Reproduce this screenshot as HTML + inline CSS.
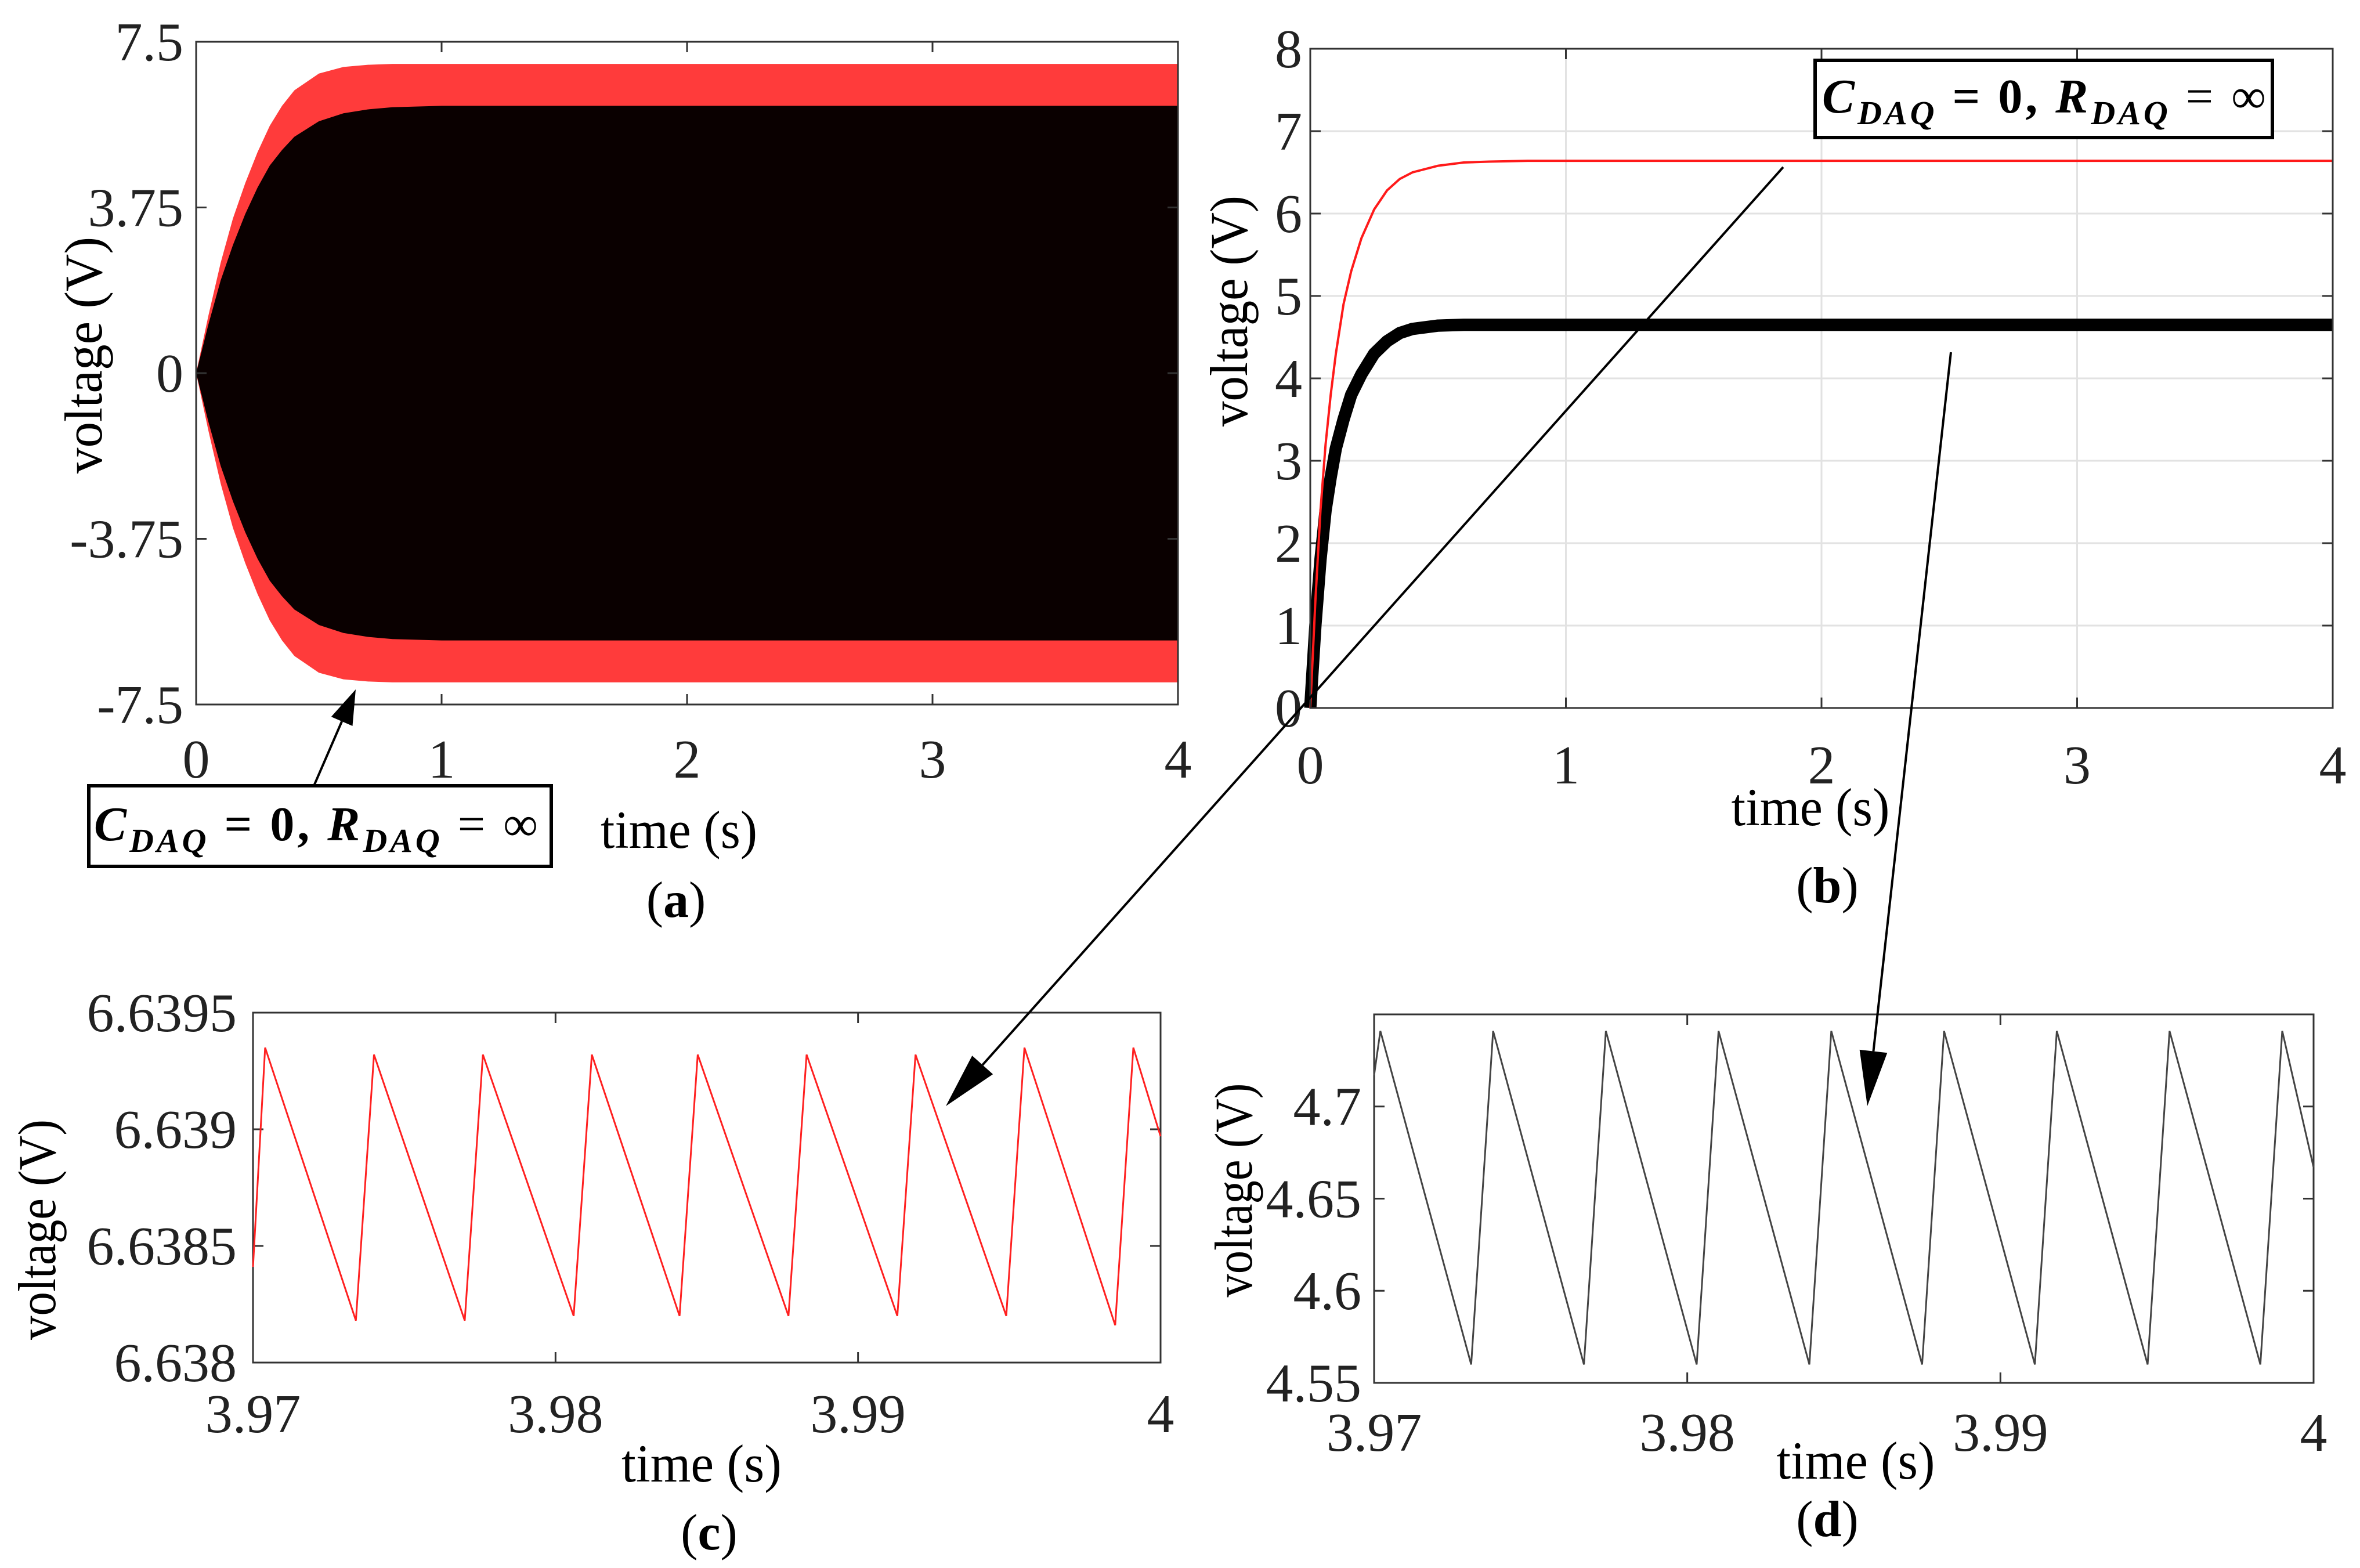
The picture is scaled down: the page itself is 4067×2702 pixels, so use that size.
<!DOCTYPE html>
<html><head><meta charset="utf-8"><style>
html,body{margin:0;padding:0;background:#fff;}
svg, svg text{font-family:"Liberation Serif","DejaVu Serif",serif;}
</style></head><body>
<svg id="fig" width="4067" height="2697" viewBox="0 0 4067 2697" xmlns="http://www.w3.org/2000/svg" font-family="Liberation Serif, DejaVu Serif, serif">
<rect width="4067" height="2697" fill="#fff"/>
<g id="pa"></g>
<g id="pb"></g>
<g id="pc"></g>
<g id="pd"></g>

<!-- static labels -->
<text x="145" y="612" font-size="92" text-anchor="middle" textLength="408" lengthAdjust="spacingAndGlyphs" transform="rotate(-90 145 612) translate(0 30)">voltage (V)</text>
<text x="1170" y="1461" font-size="92" text-anchor="middle" textLength="270" lengthAdjust="spacingAndGlyphs">time (s)</text>
<text x="1165" y="1580" font-size="88" text-anchor="middle">(<tspan font-weight="bold">a</tspan>)</text>

<text x="2119" y="536" font-size="92" text-anchor="middle" textLength="398" lengthAdjust="spacingAndGlyphs" transform="rotate(-90 2119 536) translate(0 30)">voltage (V)</text>
<text x="3120" y="1422" font-size="92" text-anchor="middle" textLength="273" lengthAdjust="spacingAndGlyphs">time (s)</text>
<text x="3149" y="1555" font-size="88" text-anchor="middle">(<tspan font-weight="bold">b</tspan>)</text>

<text x="65" y="2119" font-size="92" text-anchor="middle" textLength="380" lengthAdjust="spacingAndGlyphs" transform="rotate(-90 65 2119) translate(0 30)">voltage (V)</text>
<text x="1209" y="2553" font-size="92" text-anchor="middle" textLength="276" lengthAdjust="spacingAndGlyphs">time (s)</text>
<text x="1222" y="2670" font-size="88" text-anchor="middle">(<tspan font-weight="bold">c</tspan>)</text>

<text x="2127" y="2051" font-size="92" text-anchor="middle" textLength="369" lengthAdjust="spacingAndGlyphs" transform="rotate(-90 2127 2051) translate(0 30)">voltage (V)</text>
<text x="3198" y="2548" font-size="92" text-anchor="middle" textLength="273" lengthAdjust="spacingAndGlyphs">time (s)</text>
<text x="3149" y="2647" font-size="88" text-anchor="middle">(<tspan font-weight="bold">d</tspan>)</text>

<!-- annotation boxes -->
<g>
<rect x="153" y="1354" width="797" height="139" fill="#fff" stroke="#000" stroke-width="6"/>
<text x="162" y="1448" font-size="84" font-weight="bold" textLength="765" lengthAdjust="spacing"><tspan font-style="italic">C</tspan><tspan font-style="italic" font-size="58" dy="20">DAQ</tspan><tspan dy="-20"> = 0,  </tspan><tspan font-style="italic">R</tspan><tspan font-style="italic" font-size="58" dy="20">DAQ</tspan><tspan dy="-20" font-weight="normal"> = ∞</tspan></text>
</g>
<g>
<rect x="3128" y="104" width="788" height="133" fill="#fff" stroke="#000" stroke-width="6"/>
<text x="3140" y="194" font-size="84" font-weight="bold" textLength="765" lengthAdjust="spacing"><tspan font-style="italic">C</tspan><tspan font-style="italic" font-size="58" dy="20">DAQ</tspan><tspan dy="-20"> = 0,  </tspan><tspan font-style="italic">R</tspan><tspan font-style="italic" font-size="58" dy="20">DAQ</tspan><tspan dy="-20" font-weight="normal"> = ∞</tspan></text>
</g>
<g id="arrows"></g>

<script>
// ---------- data ----------
const aTimes = [0,0.05,0.1,0.15,0.2,0.25,0.3,0.35,0.4,0.5,0.6,0.7,0.8,1.0,4];
const aRedEnv = [0,1.3,2.5,3.5,4.3,5.0,5.6,6.05,6.4,6.78,6.93,6.98,7.0,7.0,7.0];
const aBlackEnv = [0,1.1,2.1,2.9,3.6,4.2,4.7,5.05,5.35,5.7,5.88,5.97,6.02,6.05,6.05];
const aYTicks = [7.5,3.75,0,-3.75,-7.5];
const aYTickLabels = ["7.5","3.75","0","-3.75","-7.5"];
const xTicks04 = [0,1,2,3,4];
const xTickLabels04 = ["0","1","2","3","4"];

const bTimes = [0,0.02,0.04,0.06,0.08,0.1,0.13,0.16,0.2,0.25,0.3,0.35,0.4,0.5,0.6,0.7,0.85,1,4];
const bRed = [0,1.3,2.4,3.2,3.8,4.3,4.9,5.3,5.7,6.05,6.28,6.42,6.5,6.58,6.62,6.63,6.64,6.64,6.64];
const bBlack = [0,1.0,1.8,2.4,2.8,3.15,3.5,3.8,4.05,4.3,4.45,4.55,4.6,4.64,4.65,4.65,4.65,4.65,4.65];
const bBlackBand = 0.15;
const bYTicks = [0,1,2,3,4,5,6,7,8];
const bYTickLabels = ["0","1","2","3","4","5","6","7","8"];

const cT = [3.97,3.9704,3.9734,3.9740,3.9770,3.9776,3.9806,3.9812,3.9841,3.9847,3.9877,3.9883,3.9913,3.9919,3.9949,3.9955,3.9985,3.9991,4.0];
const cV = [6.63841,6.63935,6.63818,6.63932,6.63818,6.63932,6.6382,6.63932,6.6382,6.63932,6.6382,6.63932,6.6382,6.63932,6.6382,6.63935,6.63816,6.63935,6.63897];
const cYTicks = [6.6395,6.639,6.6385,6.638];
const cYTickLabels = ["6.6395","6.639","6.6385","6.638"];
const zoomXTicks = [3.97,3.98,3.99,4];
const zoomXTickLabels = ["3.97","3.98","3.99","4"];

const dT = [3.97,3.9702,3.9731,3.9738,3.9767,3.9774,3.9803,3.9810,3.9839,3.9846,3.9875,3.9882,3.9911,3.9918,3.9947,3.9954,3.9983,3.9990,4.0];
const dV = [4.717,4.741,4.560,4.741,4.560,4.741,4.560,4.741,4.560,4.741,4.560,4.741,4.560,4.741,4.560,4.741,4.560,4.741,4.667];
const dYTicks = [4.7,4.65,4.6,4.55];
const dYTickLabels = ["4.7","4.65","4.6","4.55"];

// ---------- helpers ----------
const NS = "http://www.w3.org/2000/svg";
function mk(parent, tag, attrs){ const e=document.createElementNS(NS,tag); for(const k in attrs) e.setAttribute(k,attrs[k]); parent.appendChild(e); return e; }
function scale(d0,d1,r0,r1){ return v => r0 + (v-d0)/(d1-d0)*(r1-r0); }

function axesBox(g, L,R,T,B, name){
  const r = mk(g,'rect',{x:L,y:T,width:R-L,height:B-T,fill:'none',stroke:'#333','stroke-width':3});
  
  
}
function yTicks(g, ys, labels, sy, L, R, lx, fs, name, grid){
  ys.forEach((v,i)=>{
    const y = sy(v);
    if(grid){ const gl=mk(g,'line',{x1:L,x2:R,y1:y,y2:y,stroke:'#e2e2e2','stroke-width':3});
      
       }
    mk(g,'line',{x1:L,x2:L+18,y1:y,y2:y,stroke:'#333','stroke-width':3});
    mk(g,'line',{x1:R,x2:R-18,y1:y,y2:y,stroke:'#333','stroke-width':3});
    const t = mk(g,'text',{x:lx,y:y+fs*0.34,'font-size':fs,'text-anchor':'end',fill:'#222'});
    t.textContent = labels[i];
    
    
  });
}
function xTicksF(g, xs, labels, sx, T, B, ly, fs, name, grid){
  xs.forEach((v,i)=>{
    const x = sx(v);
    if(grid){ const gl=mk(g,'line',{x1:x,x2:x,y1:T,y2:B,stroke:'#e2e2e2','stroke-width':3});
      
       }
    mk(g,'line',{x1:x,x2:x,y1:B,y2:B-18,stroke:'#333','stroke-width':3});
    mk(g,'line',{x1:x,x2:x,y1:T,y2:T+18,stroke:'#333','stroke-width':3});
    const t = mk(g,'text',{x:x,y:ly,'font-size':fs,'text-anchor':'middle',fill:'#222'});
    t.textContent = labels[i];
    
    
  });
}
function pathFrom(xs, ys, sx, sy){ return xs.map((t,i)=>(i?'L':'M')+sx(t).toFixed(1)+' '+sy(ys[i]).toFixed(1)).join(' '); }

// ---------- panel a ----------
(function(){
  const g = document.getElementById('pa');
  const L=338,R=2030,T=72,B=1214;
  const sx=scale(0,4,L,R), sy=scale(-7.5,7.5,B,T);
  const envPath = env => { const top = aTimes.map((t,i)=>(i?'L':'M')+sx(t).toFixed(1)+' '+sy(env[i]).toFixed(1)).join(' ');
    const bot = aTimes.slice().reverse().map((t,j)=>{const i=aTimes.length-1-j; return 'L'+sx(t).toFixed(1)+' '+sy(-env[i]).toFixed(1);}).join(' ');
    return top+' '+bot+' Z'; };
  const red = mk(g,'path',{d:envPath(aRedEnv),fill:'#ff3b3b'});
  
  
  const blk = mk(g,'path',{d:envPath(aBlackEnv),fill:'#0a0000'});
  
  
  axesBox(g,L,R,T,B,'a');
  yTicks(g,aYTicks,aYTickLabels,sy,L,R,L-22,94,'a',false);
  xTicksF(g,xTicks04,xTickLabels04,sx,T,B,1340,94,'a',false);
})();

// ---------- panel b ----------
(function(){
  const g = document.getElementById('pb');
  const L=2258,R=4020,T=84,B=1220;
  const sx=scale(0,4,L,R), sy=scale(0,8,B,T);
  mk(g,'rect',{x:L,y:T,width:R-L,height:B-T,fill:'#fff'});
  yTicks(g,bYTicks,bYTickLabels,sy,L,R,L-14,94,'b',true);
  xTicksF(g,xTicks04,xTickLabels04,sx,T,B,1350,94,'b',true);
  const bw = Math.abs(sy(bBlackBand)-sy(0));
  const blk = mk(g,'path',{d:pathFrom(bTimes,bBlack,sx,sy),fill:'none',stroke:'#000','stroke-width':bw,'stroke-linejoin':'round'});
  
  
  const red = mk(g,'path',{d:pathFrom(bTimes,bRed,sx,sy),fill:'none',stroke:'#ff1a1a','stroke-width':4});
  
  
  axesBox(g,L,R,T,B,'b');
})();

// ---------- panel c ----------
(function(){
  const g = document.getElementById('pc');
  const L=436,R=2000,T=1745,B=2348;
  const sx=scale(3.97,4,L,R), sy=scale(6.638,6.6395,B,T);
  axesBox(g,L,R,T,B,'c');
  yTicks(g,cYTicks,cYTickLabels,sy,L,R,L-28,94,'c',false);
  xTicksF(g,zoomXTicks,zoomXTickLabels,sx,T,B,2468,94,'c',false);
  const p = mk(g,'path',{d:pathFrom(cT,cV,sx,sy),fill:'none',stroke:'#ff2020','stroke-width':3});
  
  
})();

// ---------- panel d ----------
(function(){
  const g = document.getElementById('pd');
  const L=2368,R=3987,T=1748,B=2383;
  const sx=scale(3.97,4,L,R), sy=scale(4.55,4.75,B,T);
  axesBox(g,L,R,T,B,'d');
  yTicks(g,dYTicks,dYTickLabels,sy,L,R,L-22,94,'d',false);
  xTicksF(g,zoomXTicks,zoomXTickLabels,sx,T,B,2500,94,'d',false);
  const p = mk(g,'path',{d:pathFrom(dT,dV,sx,sy),fill:'none',stroke:'#444','stroke-width':3});
  
  
})();

// ---------- arrows ----------
(function(){
  const g = document.getElementById('arrows');
  function arrow(x1,y1,x2,y2,name,hl,hw){
    const dx=x2-x1, dy=y2-y1, len=Math.hypot(dx,dy), ux=dx/len, uy=dy/len;
    const bx=x2-ux*hl, by=y2-uy*hl;
    const ln = mk(g,'line',{x1:x1,y1:y1,x2:bx,y2:by,stroke:'#000','stroke-width':4});
    
    
    const hd = mk(g,'polygon',{points:`${x2},${y2} ${bx-uy*hw},${by+ux*hw} ${bx+uy*hw},${by-ux*hw}`,fill:'#000'});
    
    
  }
  arrow(541,1354,613,1188,'arrow-a',60,20);
  arrow(3073,288,1630,1906,'arrow-to-c',95,24);
  arrow(3362,607,3218,1906,'arrow-to-d',95,24);
})();
</script>
</svg>
</body></html>
